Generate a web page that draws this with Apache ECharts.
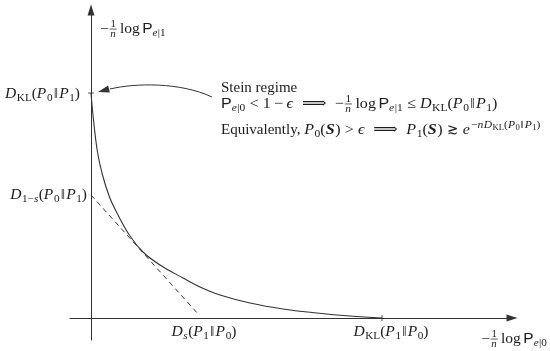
<!DOCTYPE html>
<html><head><meta charset="utf-8">
<script src="https://cdn.jsdelivr.net/npm/echarts@6/dist/echarts.min.js"></script>
<style>html,body{margin:0;padding:0;background:#fff}#c{width:550px;height:351px}</style>
</head><body><div id="c"></div>
<script>
// ---------------- data ----------------
const curveX = [0, 0.023, 0.065, 0.115, 0.185, 0.265, 0.39, 0.52, 0.69, 0.92, 1.09, 1.29, 1.59, 1.92, 2.26, 2.59, 2.91];
const curveY = [2.25, 2.00, 1.66, 1.43, 1.21, 1.04, 0.82, 0.66, 0.53, 0.40, 0.31, 0.23, 0.15, 0.09, 0.05, 0.02, 0];
const tangentX = [0, 1.08];
const tangentY = [1.23, 0.03];
const dKL01 = 2.25;   // D_KL(P0||P1), y intercept of the curve
const dKL10 = 2.91;   // D_KL(P1||P0), x intercept of the curve
const d1s = 1.23;     // D_{1-s}(P0||P1), y intercept of the tangent
const ds = 1.10;      // D_s(P1||P0), x intercept of the tangent
const xMin = -0.21, xMax = 4.21, yMin = -0.22, yMax = 3.08;

const yTickVals = [dKL01, d1s];
const yTickLabels = ['$D_{\\rm{KL}}(P_{0}‖P_{1})$', '$D_{1−s}(P_{0}‖P_{1})$'];
const xTickVals = [ds, dKL10];
const xTickLabels = ['$D_{s}(P_{1}‖P_{0})$', '$D_{\\rm{KL}}(P_{1}‖P_{0})$'];
const xAxisName = '$−\\f{1}{n}\\,\\rm{log}\\,\\sf{P}_{e|0}$';
const yAxisName = '$−\\f{1}{n}\\,\\rm{log}\\,\\sf{P}_{e|1}$';
const noteLines = [
  'Stein regime',
  '$\\sf{P}_{e|0} < 1 − ϵ ⟹ −\\f{1}{n}\\,\\rm{log}\\,\\sf{P}_{e|1} ≤ D_{\\rm{KL}}(P_{0}‖P_{1})$',
  'Equivalently, $P_{0}(\\bi{S}) > ϵ ⟹ P_{1}(\\bi{S}) ≳ e^{−nD_{\\rm{KL}}(P_{0}‖P_{1})}$'
];

// ---------------- styles ----------------
const INK = '#333';
const TXT = '#1c1c1c';
const SERIF = '"Liberation Serif","DejaVu Serif",serif';
const SANS = '"Liberation Sans","DejaVu Sans",sans-serif';
const LABEL_SIZE = 14.5;
const NOTE_SIZE = 15;
const MX = 1.07;          // horizontal stretch of math glyphs (Computer Modern is wider than Times)

// ---------------- tiny math typesetter ----------------
const cv = document.createElement('canvas').getContext('2d');
function fontSpec(f, s) {
  return {
    fontFamily: f === 'sf' ? SANS : SERIF,
    fontStyle: (f === 'it' || f === 'bi') ? 'italic' : 'normal',
    fontWeight: f === 'bi' ? 'bold' : 'normal',
    fontSize: s
  };
}
function cssFont(f, s) { const p = fontSpec(f, s); return p.fontStyle + ' ' + p.fontWeight + ' ' + s + 'px ' + p.fontFamily; }
function measure(t, f, s) { cv.font = cssFont(f, s); cv.textBaseline = 'alphabetic'; return cv.measureText(t).width; }
function midDrop(f, s) {
  cv.font = cssFont(f, s); cv.textBaseline = 'middle';
  const m = cv.measureText('H'); cv.textBaseline = 'alphabetic';
  const d = m.actualBoundingBoxDescent;
  return (typeof d === 'number' && isFinite(d)) ? d : 0.32 * s;
}
const REL = '<>≤≳⟹=';
const BIN = '−+';
function parse(s) {
  let i = 0;
  function seq(math, fo, endCh) {
    const out = [];
    while (i < s.length) {
      const c = s[i];
      if (c === endCh) { i++; return out; }
      if (c === '$') { i++; math = !math; continue; }
      if (c === '\\') {
        if (s[i + 1] === ',') { i += 2; out.push({ type: 'sp', em: 0.167 }); continue; }
        let j = i + 1; while (j < s.length && /[a-z]/.test(s[j])) j++;
        const cmd = s.slice(i + 1, j); i = j;
        if (cmd === 'f') {
          i++; const num = seq(math, fo, '}');
          i++; const den = seq(math, fo, '}');
          out.push({ type: 'frac', num, den });
        } else {
          i++; out.push(...seq(math, cmd, '}'));
        }
        continue;
      }
      if (c === '_' || c === '^') {
        i += 2; const body = seq(math, fo, '}');
        out.push({ type: c === '_' ? 'sub' : 'sup', body });
        continue;
      }
      i++;
      if (math && c === ' ') continue;
      let font;
      if (fo) font = fo;
      else if (!math) font = 'rm';
      else if (/[A-Za-zα-ωϵ]/.test(c)) font = 'it';
      else font = 'rm';
      out.push({ type: 'ch', ch: c, font, math });
    }
    return out;
  }
  return seq(false, null, null);
}
function lay(nodes, size, script) {
  const items = []; let x = 0; let prev = null;
  function addText(t, f, s, y) {
    const last = items[items.length - 1];
    if (last && last.k === 't' && last.sx === 1 && last.f === f && last.s === s && last.y === y && Math.abs(last.x + last.w - x) < 0.01) {
      last.t += t; last.w = measure(last.t, f, s); x = last.x + last.w;
    } else { const w = measure(t, f, s); items.push({ k: 't', t, f, s, y, x, w, sx: 1 }); x += w; }
  }
  for (const n of nodes) {
    if (n.type === 'sp') { x += n.em * size; continue; }
    if (n.type === 'ch') {
      if (!n.math) { addText(n.ch, n.font, size, 0); prev = 'ord'; continue; }
      let sp = 0, kind = 'ord';
      if (!script) {
        if (REL.includes(n.ch)) { sp = n.ch === '⟹' ? 0.556 : 0.278; kind = 'rel'; }
        else if (BIN.includes(n.ch) && prev === 'ord') { sp = 0.222; kind = 'bin'; }
      }
      const w0 = measure(n.ch, n.font, size);
      let w = w0 * MX;
      if (n.ch === '⟹') w = 1.638 * size;
      if (n.ch === '≳') w = 0.778 * size;
      const sx = w / w0;
      const pre = n.ch === '‖' ? 0.08 * size : 0;
      const post = (n.font === 'it' || n.font === 'bi') ? 0.04 * size : (n.ch === '‖' ? 0.08 * size : 0);
      x += sp * size + pre;
      items.push({ k: 't', t: n.ch, f: n.font, s: size, y: 0, x, w, sx });
      x += w + post + sp * size;
      prev = kind;
    } else if (n.type === 'sub' || n.type === 'sup') {
      const s2 = size * (script ? 0.75 : 0.72);
      const inner = lay(n.body, s2, true);
      const dy = n.type === 'sub' ? 0.2 * size : -0.42 * size;
      const dx = n.type === 'sup' ? 0.04 * size : 0;
      for (const it of inner.items) {
        const c = Object.assign({}, it);
        if (c.k === 't') { c.x += x + dx; c.y += dy; }
        else { c.x1 += x + dx; c.x2 += x + dx; c.y += dy; }
        items.push(c);
      }
      x += inner.w + dx; prev = 'ord';
    } else if (n.type === 'frac') {
      const s2 = size * 0.7;
      const a = lay(n.num, s2, true), b = lay(n.den, s2, true);
      const pad = 0.1 * size; const inner = Math.max(a.w, b.w); const w = inner + 2 * pad;
      for (const it of a.items) items.push(Object.assign({}, it, { x: x + pad + (inner - a.w) / 2 + it.x, y: -0.43 * size + it.y }));
      for (const it of b.items) items.push(Object.assign({}, it, { x: x + pad + (inner - b.w) / 2 + it.x, y: 0.29 * size + it.y }));
      items.push({ k: 'l', x1: x + 0.06 * size, x2: x + w - 0.06 * size, y: -0.27 * size });
      x += w; prev = 'ord';
    }
  }
  return { w: x, items };
}
function mathEls(str, size, ax, ay, anchor) {
  const L = lay(parse(str), size, false);
  const x0 = anchor === 'right' ? ax - L.w : anchor === 'center' ? ax - L.w / 2 : ax;
  return L.items.map(it => it.k === 't'
    ? { type: 'text', silent: true, x: x0 + it.x, y: ay + it.y - midDrop(it.f, it.s), scaleX: it.sx,
        style: Object.assign({ text: it.t, fill: TXT, align: 'left', verticalAlign: 'middle' }, fontSpec(it.f, it.s)) }
    : { type: 'line', silent: true, shape: { x1: x0 + it.x1, y1: ay + it.y, x2: x0 + it.x2, y2: ay + it.y },
        style: { stroke: TXT, lineWidth: 0.7 } });
}

// ---------------- chart ----------------
const chart = echarts.init(document.getElementById('c'), null, { renderer: 'canvas' });
const axisCommon = {
  type: 'value',
  axisLine: { show: true, onZero: true, symbol: ['none', 'triangle'], symbolSize: [7, 11], lineStyle: { color: INK, width: 1 } },
  axisTick: { show: false }, axisLabel: { show: false }, splitLine: { show: false }
};
chart.setOption({
  animation: false,
  grid: { left: 70, right: 38, top: 10, bottom: 11 },
  xAxis: Object.assign({ min: xMin, max: xMax }, axisCommon),
  yAxis: Object.assign({ min: yMin, max: yMax }, axisCommon),
  series: [
    { type: 'line', data: curveX.map((x, i) => [x, curveY[i]]), smooth: 0.4,
      symbol: 'none', lineStyle: { color: INK, width: 1.1 }, z: 3, silent: true },
    { type: 'line', data: tangentX.map((x, i) => [x, tangentY[i]]), symbol: 'none',
      lineStyle: { color: INK, width: 1, type: [5, 4] }, silent: true },
    { type: 'scatter', symbol: 'rect', silent: true, itemStyle: { color: INK },
      data: [{ value: [0, dKL01], symbolSize: [6, 1] }, { value: [dKL10, 0], symbolSize: [1, 6] }] }
  ]
});

const px = v => chart.convertToPixel({ gridIndex: 0 }, v);
let els = [];
const pY0 = px([0, yTickVals[0]]), pY1 = px([0, yTickVals[1]]);
els = els.concat(mathEls(yTickLabels[0], LABEL_SIZE, pY0[0] - 11, pY0[1] + 5, 'right'));
els = els.concat(mathEls(yTickLabels[1], LABEL_SIZE, pY1[0] - 4, pY1[1] + 4, 'right'));
const pX0 = px([xTickVals[0], 0]), pX1 = px([xTickVals[1], 0]);
els = els.concat(mathEls(xTickLabels[0], LABEL_SIZE, pX0[0] + 3, pX0[1] + 18, 'center'));
els = els.concat(mathEls(xTickLabels[1], LABEL_SIZE, pX1[0] + 9, pX1[1] + 18, 'center'));
const pXEnd = px([xMax, 0]), pYEnd = px([0, yMax]);
els = els.concat(mathEls(xAxisName, LABEL_SIZE, pXEnd[0] + 2, pXEnd[1] + 25, 'center'));
els = els.concat(mathEls(yAxisName, LABEL_SIZE, pYEnd[0] + 9, pYEnd[1] + 23, 'left'));
const noteX = 221, noteBase = [92, 108, 134];
noteLines.forEach((t, i) => { els = els.concat(mathEls(t, NOTE_SIZE, noteX, noteBase[i], 'left')); });
const tip = [pY0[0] + 7, pY0[1] - 1];
const base = [tip[0] + 11, tip[1] - 3];
const dl = Math.hypot(base[0] - tip[0], base[1] - tip[1]);
const nx = -(base[1] - tip[1]) / dl, ny = (base[0] - tip[0]) / dl;
els.push({ type: 'bezierCurve', silent: true,
  shape: { x1: noteX - 9, y1: noteBase[0] + 5, cpx1: 180, cpy1: 82, cpx2: 135, cpy2: 83, x2: base[0] + 1, y2: base[1] },
  style: { stroke: INK, lineWidth: 1, fill: null } });
els.push({ type: 'polygon', silent: true,
  shape: { points: [tip, [base[0] + nx * 3.5, base[1] + ny * 3.5], [base[0] - nx * 3.5, base[1] - ny * 3.5]] },
  style: { fill: INK } });
chart.setOption({ graphic: { elements: els } });
</script>
</body></html>
